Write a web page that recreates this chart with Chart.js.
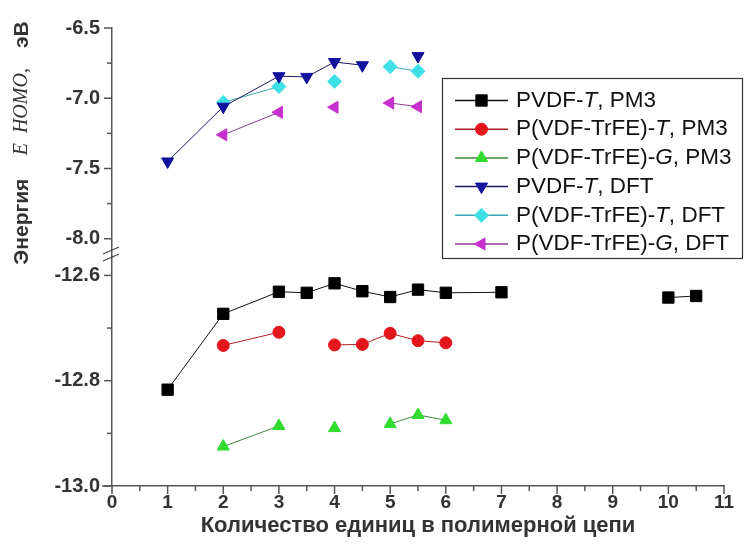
<!DOCTYPE html>
<html>
<head>
<meta charset="utf-8">
<script src="https://cdn.jsdelivr.net/npm/chart.js@4/dist/chart.umd.min.js"></script>
<style>
  html, body { margin: 0; padding: 0; background: #fff; }
</style>
</head>
<body>
<canvas id="myChart" width="746" height="547"></canvas>
<script>
// tick labels
const xTicks = [0, 1, 2, 3, 4, 5, 6, 7, 8, 9, 10, 11];
const yTopTicks = [-8.0, -7.5, -7.0, -6.5];
const yBotTicks = [-13.0, -12.8, -12.6];

// legend names: [before, italic, after]
const seriesNames = [
    ['PVDF-', 'T', ', PM3'],
    ['P(VDF-TrFE)-', 'T', ', PM3'],
    ['P(VDF-TrFE)-', 'G', ', PM3'],
    ['PVDF-', 'T', ', DFT'],
    ['P(VDF-TrFE)-', 'T', ', DFT'],
    ['P(VDF-TrFE)-', 'G', ', DFT']
];

// PM3 series (lower part of the axis), null = break in the line
const pvdfPm3X = [1, 2, 3, 3.5, 4, 4.5, 5, 5.5, 6, 7, 8.5, 10, 10.5];
const pvdfPm3Y = [-12.817, -12.673, -12.631, -12.633, -12.615, -12.630, -12.641, -12.627, -12.633, -12.632, null, -12.642, -12.639];

const trfeTPm3X = [2, 3, 3.5, 4, 4.5, 5, 5.5, 6];
const trfeTPm3Y = [-12.733, -12.708, null, -12.732, -12.731, -12.710, -12.724, -12.728];

const trfeGPm3X = [2, 3, 3.5, 4, 4.5, 5, 5.5, 6];
const trfeGPm3Y = [-12.925, -12.886, null, -12.890, null, -12.882, -12.865, -12.875];

// DFT series (upper part of the axis)
const pvdfDftX = [1, 2, 3, 3.5, 4, 4.5, 5, 5.5];
const pvdfDftY = [-7.45, -7.06, -6.843, -6.848, -6.742, -6.765, null, -6.70];

const trfeTDftX = [2, 3, 3.5, 4, 4.5, 5, 5.5];
const trfeTDftY = [-7.03, -6.917, null, -6.88, null, -6.775, -6.808];

const trfeGDftX = [2, 3, 3.5, 4, 4.5, 5, 5.5];
const trfeGDftY = [-7.26, -7.10, null, -7.064, null, -7.034, -7.06];

function puntos(xs, ys) {
    return xs.map((x, i) => ({ x: x, y: ys[i] }));
}

function serie(idx, xs, ys, eje, linea, relleno, estilo, radio, giro) {
    return {
        label: seriesNames[idx].join(''),
        data: puntos(xs, ys),
        yAxisID: eje,
        borderColor: linea,
        backgroundColor: relleno,
        pointBackgroundColor: relleno,
        pointBorderColor: relleno,
        pointStyle: estilo,
        pointRadius: radio,
        pointRotation: giro,
        pointBorderWidth: 1,
        borderWidth: 1,
        spanGaps: false,
        tension: 0
    };
}

const datasets = [
    serie(0, pvdfPm3X, pvdfPm3Y, 'yBot', '#111111', '#000000', 'rect', 8, 0),
    serie(1, trfeTPm3X, trfeTPm3Y, 'yBot', '#b02020', '#e3161c', 'circle', 6, 0),
    serie(2, trfeGPm3X, trfeGPm3Y, 'yBot', '#3a8a3a', '#2fdc2f', 'triangle', 7, 0),
    serie(3, pvdfDftX, pvdfDftY, 'yTop', '#1a1a60', '#12129c', 'triangle', 7, 180),
    serie(4, trfeTDftX, trfeTDftY, 'yTop', '#3aa8b0', '#3ee0e6', 'rectRot', 7, 0),
    serie(5, trfeGDftX, trfeGDftY, 'yTop', '#8a3a90', '#c52fcc', 'triangle', 7, 270)
];

const FUENTE = '"Liberation Sans", Arial, sans-serif';

// minor ticks, axis break, y title and the boxed legend
const extras = {
    id: 'extras',
    afterDraw(chart) {
        const ctx = chart.ctx;
        const sx = chart.scales.x, st = chart.scales.yTop, sb = chart.scales.yBot;
        const ax = chart.chartArea.left, ay = chart.chartArea.bottom;
        ctx.save();
        ctx.strokeStyle = '#555';
        ctx.lineWidth = 1.5;

        function marcaY(scale, v, len) {
            const p = scale.getPixelForValue(v);
            ctx.beginPath(); ctx.moveTo(ax - len, p); ctx.lineTo(ax, p); ctx.stroke();
        }
        function marcaX(v, len) {
            const p = sx.getPixelForValue(v);
            ctx.beginPath(); ctx.moveTo(p, ay); ctx.lineTo(p, ay + len); ctx.stroke();
        }
        yTopTicks.forEach((v, i) => {
            marcaY(st, v, 8);
            if (i > 0) marcaY(st, (v + yTopTicks[i - 1]) / 2, 5);
        });
        yBotTicks.forEach((v, i) => {
            marcaY(sb, v, 8);
            if (i > 0) marcaY(sb, (v + yBotTicks[i - 1]) / 2, 5);
        });
        xTicks.forEach((v, i) => {
            marcaX(v, 8);
            if (i > 0) marcaX((v + xTicks[i - 1]) / 2, 5);
        });
        // x axis line sticks out a little to the left
        ctx.beginPath(); ctx.moveTo(ax - 10, ay); ctx.lineTo(ax, ay); ctx.stroke();

        // axis break
        const corte = Math.max(st.bottom, sb.top);
        ctx.lineWidth = 1.2;
        ctx.strokeStyle = '#444';
        ctx.beginPath(); ctx.moveTo(ax - 9, corte - 3); ctx.lineTo(ax + 7, corte - 10); ctx.stroke();
        ctx.beginPath(); ctx.moveTo(ax - 9, corte + 4); ctx.lineTo(ax + 7, corte - 3); ctx.stroke();

        // y title
        ctx.save();
        ctx.translate(22, 143);
        ctx.rotate(-Math.PI / 2);
        ctx.fillStyle = '#333';
        ctx.textBaseline = 'middle';
        const partes = [
            ['Энергия    ', 'bold 21px ' + FUENTE],
            ['E  HOMO,    ', 'italic 20px "Liberation Serif", "Times New Roman", serif'],
            ['эВ', 'bold 21px ' + FUENTE]
        ];
        let total = 0;
        partes.forEach(p => { ctx.font = p[1]; total += ctx.measureText(p[0]).width; });
        let px = -total / 2;
        partes.forEach(p => {
            ctx.font = p[1];
            ctx.fillText(p[0], px, 0);
            px += ctx.measureText(p[0]).width;
        });
        ctx.restore();

        // legend
        ctx.lineWidth = 1.2;
        ctx.strokeStyle = '#333';
        ctx.strokeRect(442.5, 78.5, 300, 180);
        chart.data.datasets.forEach((ds, i) => {
            const y = 100.5 + i * 28.7;
            ctx.strokeStyle = ds.borderColor;
            ctx.lineWidth = 1.5;
            ctx.beginPath(); ctx.moveTo(455, y); ctx.lineTo(508, y); ctx.stroke();
            ctx.fillStyle = ds.pointBackgroundColor;
            ctx.strokeStyle = ds.pointBorderColor;
            ctx.lineWidth = 1;
            Chart.helpers.drawPoint(ctx, {
                pointStyle: ds.pointStyle, radius: ds.pointRadius,
                rotation: ds.pointRotation, borderWidth: 1
            }, 481.5, y);
            let tx = 516;
            ctx.fillStyle = '#111';
            ctx.textBaseline = 'middle';
            seriesNames[i].forEach((t, k) => {
                ctx.font = (k === 1 ? 'italic ' : '') + '22.5px ' + FUENTE;
                ctx.fillText(t, tx, y);
                tx += ctx.measureText(t).width;
            });
        });
        ctx.restore();
    }
};

const ejeComun = {
    border: { color: '#555', width: 1.5 },
    grid: { drawOnChartArea: false, drawTicks: false }
};

new Chart(document.getElementById('myChart').getContext('2d'), {
    type: 'line',
    data: { datasets: datasets },
    options: {
        responsive: false,
        animation: false,
        layout: { padding: { top: 28, right: 22, left: 0, bottom: 0 } },
        plugins: {
            legend: { display: false },
            tooltip: { enabled: false }
        },
        scales: {
            x: Object.assign({}, ejeComun, {
                type: 'linear',
                min: 0,
                max: 11,
                afterBuildTicks: s => { s.ticks = xTicks.map(v => ({ value: v })); },
                afterFit: s => { s.height = 61; },
                ticks: {
                    padding: 5,
                    color: '#333',
                    font: { family: FUENTE, size: 19, weight: 'bold' },
                    callback: v => String(v)
                },
                title: {
                    display: true,
                    text: 'Количество единиц в полимерной цепи',
                    color: '#333',
                    font: { family: FUENTE, size: 22, weight: 'bold' },
                    padding: { top: 0, bottom: 8 }
                }
            }),
            yBot: Object.assign({}, ejeComun, {
                type: 'linear',
                position: 'left',
                stack: 'energia',
                stackWeight: 1,
                min: -13.0,
                max: -12.565,
                afterBuildTicks: s => { s.ticks = yBotTicks.map(v => ({ value: v })); },
                afterFit: s => { s.width = 112; },
                ticks: {
                    padding: 12,
                    color: '#333',
                    font: { family: FUENTE, size: 20, weight: 'bold' },
                    callback: v => v.toFixed(1)
                }
            }),
            yTop: Object.assign({}, ejeComun, {
                type: 'linear',
                position: 'left',
                stack: 'energia',
                stackWeight: 1,
                min: -8.13,
                max: -6.5,
                afterBuildTicks: s => { s.ticks = yTopTicks.map(v => ({ value: v })); },
                afterFit: s => { s.width = 112; },
                ticks: {
                    padding: 12,
                    color: '#333',
                    font: { family: FUENTE, size: 20, weight: 'bold' },
                    callback: v => v.toFixed(1)
                }
            })
        }
    },
    plugins: [extras]
});
</script>
</body>
</html>
